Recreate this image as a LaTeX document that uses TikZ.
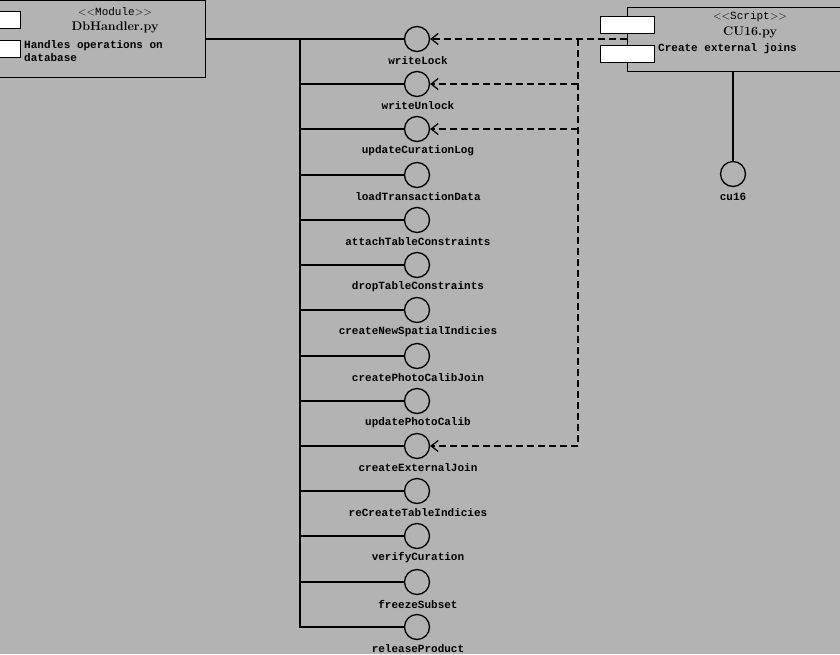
\documentclass[tikz,border=0pt]{standalone}
\usepackage{fontspec}
\newfontfamily\monob{Liberation Mono}
\usetikzlibrary{arrows.meta}
\begin{document}
\begin{tikzpicture}[x=1pt,y=-1pt,
  lbl/.style={font=\fontsize{11}{13}\selectfont\monob\bfseries},
  port/.style={draw,fill=white,line width=1pt,minimum width=0,inner sep=0},
  iface/.style={circle,draw,line width=1.3pt,minimum size=25pt,inner sep=0},
  dep/.style={dashed,dash pattern=on 7pt off 4pt,line width=1.3pt,-{Straight Barb[length=7pt,width=11pt,line width=1.3pt]}},
  conn/.style={line width=1.3pt}]
\fill[fill={rgb,255:red,179;green,179;blue,179}] (0,0) rectangle (840,654);
\useasboundingbox (0,0) rectangle (840,654);
% left module
\node[draw,line width=1pt,minimum width=206pt,minimum height=77pt,anchor=north west,inner sep=0] (mod) at (-1,0) {};
\draw[port] (-1,11) rectangle (20,28);
\draw[port] (-1,40) rectangle (20,57);
\node[font=\fontsize{11}{12}\selectfont\monob] (mst) at (115,12) {$<<$Module$>>$};
\node[font=\fontsize{12.5}{13}\selectfont\bfseries] (mnm) at (115,27) {DbHandler.py};
\node[lbl,anchor=west,align=left,inner sep=0] (mdesc) at (24,51) {Handles operations on\\database};
% right script
\node[draw,line width=1pt,minimum width=213pt,minimum height=64pt,anchor=north west,inner sep=0] (scr) at (627,7) {};
\draw[port] (600,16) rectangle (654,33);
\draw[port] (600,45) rectangle (654,62);
\node[font=\fontsize{11}{12}\selectfont\monob] (sst) at (750,17) {$<<$Script$>>$};
\node[font=\fontsize{12.5}{13}\selectfont\bfseries] (snm) at (750,32) {CU16.py};
\node[lbl,anchor=west,inner sep=0] (sdesc) at (658,49) {Create external joins};
\node[iface] (cu) at (733,174) {};
\node[lbl] at (733,197) {cu16};
\draw[conn] (scr.south -| cu) -- (cu);
% interfaces
\draw[conn] (205,39) -- (300,39);
\draw[conn] (300,39) -- (300,628);
\foreach \n/\y/\t in {i1/39/writeLock,i2/84/writeUnlock,i3/129/updateCurationLog,i4/175/loadTransactionData,i5/220/attachTableConstraints,i6/265/dropTableConstraints,i7/310/createNewSpatialIndicies,i8/356/createPhotoCalibJoin,i9/401/updatePhotoCalib,i10/446/createExternalJoin,i11/491/reCreateTableIndicies,i12/536/verifyCuration,i13/582/freezeSubset,i14/627/releaseProduct}{
  \node[iface] (\n) at (417,\y) {};
  \node[lbl] at (418,\y+22) {\t};
  \draw[conn] (300,\y) -- (\n);
}
% dependencies
\coordinate (d0) at (578,39);
\draw[dep] (627,39) -- (i1);
\draw[dashed,dash pattern=on 7pt off 4pt,line width=1.3pt] (d0) -- (578,446);
\draw[dep] (578,84) -- (i2);
\draw[dep] (578,129) -- (i3);
\draw[dep] (578,446) -- (i10);
\end{tikzpicture}
\end{document}
